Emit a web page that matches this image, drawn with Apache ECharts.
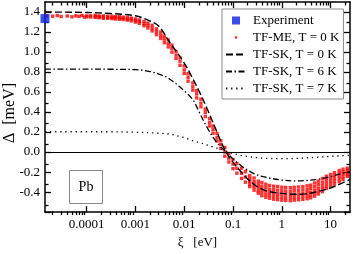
<!DOCTYPE html>
<html><head><meta charset="utf-8">
<script src="https://cdn.jsdelivr.net/npm/echarts@6/dist/echarts.min.js"></script>
<style>html,body{margin:0;padding:0;background:#fff}#c{width:353px;height:254px}</style>
</head><body><div id="c"></div><script>
// ---- axis ranges & ticks ----
const X_MIN = 1.4e-5, X_MAX = 25;
const Y_MIN = -0.6, Y_MAX = 1.5;
const xTickValues = [1e-4, 1e-3, 1e-2, 1e-1, 1, 10];
const xTickLabels = ['0.0001', '0.001', '0.01', '0.1', '1', '10'];
const yTickValues = [-0.4, -0.2, 0, 0.2, 0.4, 0.6, 0.8, 1.0, 1.2, 1.4];
const yTickLabels = ['-0.4', '-0.2', '0.0', '0.2', '0.4', '0.6', '0.8', '1.0', '1.2', '1.4'];
const xTitle = 'ξ   [eV]';
const yTitle = 'Δ  [meV]';
const panelLabel = 'Pb';

// ---- series names ----
const seriesNames = ['Experiment', 'TF-ME, T = 0 K', 'TF-SK, T = 0 K', 'TF-SK, T = 6 K', 'TF-SK, T = 7 K'];

// ---- Experiment ----
const experimentXi = [1.4e-5];
const experimentDelta = [1.334];

// ---- TF-SK curves (xi in eV, Delta in meV) ----
const skXi = [1.4e-5, 1e-4, 3e-4, 1e-3, 2e-3, 3e-3, 5e-3, 0.01, 0.015, 0.02, 0.03, 0.04, 0.05, 0.07, 0.1, 0.15, 0.2, 0.3, 0.5, 1, 2, 3, 5, 10, 15, 25];
const skT0 = [1.40, 1.395, 1.385, 1.362, 1.31, 1.26, 1.10, 0.89, 0.733, 0.613, 0.425, 0.280, 0.169, 0.011, -0.101, -0.204, -0.269, -0.340, -0.390, -0.413, -0.422, -0.418, -0.399, -0.358, -0.323, -0.273];
const skT6 = [0.829, 0.829, 0.828, 0.824, 0.805, 0.780, 0.731, 0.612, 0.524, 0.405, 0.238, 0.139, 0.080, 0.006, -0.068, -0.142, -0.181, -0.226, -0.255, -0.280, -0.288, -0.285, -0.275, -0.246, -0.221, -0.196];
const skT7 = [0.203, 0.203, 0.203, 0.198, 0.193, 0.188, 0.179, 0.144, 0.114, 0.097, 0.070, 0.050, 0.036, 0.011, -0.014, -0.034, -0.043, -0.055, -0.063, -0.066, -0.063, -0.058, -0.053, -0.043, -0.038, -0.032];

// ---- TF-ME scatter (xi in eV; several Delta readings per xi) ----
const tfmeXi = [1.5e-5, 2e-5, 2.5e-5, 3e-5, 4e-5, 5e-5, 6e-5, 7e-5, 8e-5, 9e-5,
  1.0e-4, 1.2e-4, 1.5e-4, 1.8e-4, 2.2e-4, 2.7e-4, 3.3e-4, 3.9e-4, 4.7e-4, 5.6e-4, 6.8e-4, 8.2e-4,
  1.0e-3, 1.2e-3, 1.5e-3, 1.8e-3, 2.2e-3, 2.7e-3, 3.3e-3, 3.9e-3, 4.7e-3, 5.6e-3, 6.8e-3, 8.2e-3,
  1.0e-2, 1.2e-2, 1.5e-2, 1.8e-2, 2.2e-2, 2.7e-2, 3.3e-2, 3.9e-2, 4.7e-2, 5.6e-2, 6.8e-2, 8.2e-2,
  0.10, 0.12, 0.15, 0.18, 0.22, 0.27, 0.33, 0.39, 0.47, 0.56, 0.68, 0.82,
  1.0, 1.2, 1.5, 1.8, 2.2, 2.7, 3.3, 3.9, 4.7, 5.6, 6.8, 8.2,
  10, 12, 15, 18, 22];
const tfmeDelta = [
  [1.362], [1.358], [1.365], [1.355], [1.360], [1.352], [1.362], [1.356], [1.366], [1.350],
  [1.360, 1.352], [1.362, 1.350], [1.366, 1.355, 1.346], [1.361, 1.351, 1.343], [1.361, 1.349, 1.337], [1.357, 1.347, 1.337],
  [1.358, 1.344, 1.334], [1.353, 1.344, 1.330], [1.354, 1.340, 1.328], [1.348, 1.337, 1.325], [1.346, 1.330, 1.319], [1.339, 1.328, 1.312],
  [1.331, 1.314, 1.299], [1.321, 1.306, 1.287], [1.306, 1.283, 1.263], [1.289, 1.266, 1.241], [1.266, 1.236, 1.211], [1.231, 1.204, 1.174],
  [1.199, 1.166, 1.136], [1.159, 1.129, 1.094], [1.121, 1.084, 1.051], [1.069, 1.036, 0.999], [1.006, 0.969, 0.936], [0.944, 0.907, 0.867],
  [0.861, 0.822, 0.786], [0.784, 0.747, 0.709], [0.691, 0.653, 0.619], [0.614, 0.581, 0.542], [0.529, 0.489, 0.453], [0.429, 0.395, 0.355],
  [0.334, 0.295, 0.261], [0.261, 0.227, 0.189], [0.186, 0.146, 0.111], [0.114, 0.077, 0.037], [0.046, 0.001, -0.041], [-0.014, -0.061, -0.099],
  [-0.074, -0.121, -0.166], [-0.114, -0.163, -0.211], [-0.161, -0.212, -0.263], [-0.196, -0.249, -0.301],
  [-0.236, -0.265, -0.293, -0.321, -0.346], [-0.259, -0.294, -0.324, -0.351, -0.381], [-0.291, -0.321, -0.352, -0.386, -0.411],
  [-0.304, -0.341, -0.373, -0.404, -0.436], [-0.321, -0.354, -0.389, -0.421, -0.451], [-0.334, -0.371, -0.401, -0.431, -0.461],
  [-0.341, -0.376, -0.409, -0.441, -0.471], [-0.344, -0.381, -0.416, -0.446, -0.476],
  [-0.351, -0.386, -0.419, -0.451, -0.481], [-0.353, -0.389, -0.421, -0.456, -0.484], [-0.356, -0.391, -0.424, -0.454, -0.486],
  [-0.352, -0.386, -0.421, -0.453, -0.481], [-0.349, -0.385, -0.419, -0.449, -0.477], [-0.346, -0.379, -0.413, -0.446, -0.473],
  [-0.337, -0.373, -0.406, -0.436, -0.466], [-0.331, -0.364, -0.401, -0.431, -0.457], [-0.309, -0.346, -0.381, -0.411, -0.441],
  [-0.291, -0.325, -0.361, -0.391, -0.419], [-0.264, -0.301, -0.334, -0.366, -0.396], [-0.241, -0.271, -0.303, -0.336, -0.364],
  [-0.224, -0.256, -0.286, -0.314, -0.346], [-0.206, -0.233, -0.262, -0.291, -0.319], [-0.184, -0.213, -0.241, -0.267, -0.296],
  [-0.171, -0.196, -0.221, -0.249, -0.274], [-0.161, -0.181, -0.205, -0.226, -0.244]
];

// ---- build ----
const L = Math.log10;
const xLo = L(X_MIN), xHi = L(X_MAX);
const xMajor = xTickValues.map(L);
const xMinor = [];
for (let n = -5; n <= 1; n++) for (let k = 2; k <= 9; k++) { const v = L(k * Math.pow(10, n)); if (v > xLo && v < xHi) xMinor.push(v); }
const yMajor = [-0.6].concat(yTickValues);
const yMinor = [];
for (let v = -5; v <= 13; v += 2) yMinor.push(v / 10);

const FONT = 'Liberation Serif';
const BLACK = '#000';
const gridRect = { left: 45, right: 3, top: 2, bottom: 39 };

function xFmt(v) { for (let i = 0; i < xMajor.length; i++) if (Math.abs(xMajor[i] - v) < 1e-6) return xTickLabels[i]; return ''; }
function yFmt(v) { for (let i = 0; i < yTickValues.length; i++) if (Math.abs(yTickValues[i] - v) < 1e-6) return yTickLabels[i]; return ''; }

function xAxisDef(grid, pos, ticks, len, line, labels) {
  return {
    type: 'value', gridIndex: grid, position: pos, min: xLo, max: xHi,
    axisLine: { show: line, onZero: false, lineStyle: { color: BLACK, width: 1.5 } },
    axisTick: { show: true, inside: true, length: len, customValues: ticks, lineStyle: { color: BLACK, width: 1.3 } },
    axisLabel: labels ? { show: true, customValues: xMajor, formatter: xFmt, margin: 6, fontFamily: FONT, fontSize: 13, color: BLACK } : { show: false },
    splitLine: { show: false },
    name: labels ? xTitle : '', nameLocation: 'middle', nameGap: 23,
    nameTextStyle: { fontFamily: FONT, fontSize: 13, color: BLACK }
  };
}
function yAxisDef(grid, pos, ticks, len, line, labels) {
  return {
    type: 'value', gridIndex: grid, position: pos, min: Y_MIN, max: Y_MAX,
    axisLine: { show: line, onZero: false, lineStyle: { color: BLACK, width: 1.5 } },
    axisTick: { show: true, inside: true, length: len, customValues: ticks, lineStyle: { color: BLACK, width: 1.3 } },
    axisLabel: labels ? { show: true, customValues: yTickValues, formatter: yFmt, margin: 5, fontFamily: FONT, fontSize: 13, color: BLACK } : { show: false },
    splitLine: { show: false }
  };
}

const tfmeData = [];
tfmeXi.forEach((x, i) => tfmeDelta[i].forEach(d => tfmeData.push([L(x), d])));
const pairs = (xs, ys) => xs.map((x, i) => [L(x), ys[i]]);
const noSym = { opacity: 0, color: 'rgba(0,0,0,0)', borderWidth: 0 };

const option = {
  animation: false,
  backgroundColor: '#fff',
  grid: [Object.assign({}, gridRect), Object.assign({}, gridRect)],
  xAxis: [
    xAxisDef(0, 'bottom', xMajor, 6, true, true),
    xAxisDef(0, 'top', xMajor, 6, true, false),
    xAxisDef(1, 'bottom', xMinor, 3.5, false, false),
    xAxisDef(1, 'top', xMinor, 3.5, false, false)
  ],
  yAxis: [
    yAxisDef(0, 'left', yMajor, 6, true, true),
    yAxisDef(0, 'right', yMajor, 6, true, false),
    yAxisDef(1, 'left', yMinor, 3.5, false, false),
    yAxisDef(1, 'right', yMinor, 3.5, false, false)
  ],
  legend: {
    orient: 'vertical', left: 222, top: 9,
    data: [
      { name: seriesNames[0], icon: 'path://M0,0 M20,0 M20,10 M0,10 M6,1 L14,1 L14,9 L6,9 Z' },
      { name: seriesNames[1], icon: 'path://M0,0 M20,0 M20,10 M0,10 M8.8,3.8 L11.2,3.8 L11.2,6.2 L8.8,6.2 Z' },
      { name: seriesNames[2], itemStyle: noSym },
      { name: seriesNames[3], itemStyle: noSym },
      { name: seriesNames[4], itemStyle: noSym }
    ],
    itemWidth: 20, itemHeight: 10, itemGap: 4,
    padding: [5, 4, 4, 3],
    borderColor: '#888', borderWidth: 1, backgroundColor: '#fff',
    selectedMode: false,
    textStyle: { fontFamily: FONT, fontSize: 13, color: BLACK, lineHeight: 13, padding: [0, 0, 0, 2] }
  },
  graphic: [
    { type: 'text', x: 10, y: 113, rotation: Math.PI / 2,
      style: { text: yTitle, fontFamily: FONT, fontSize: 16, fill: BLACK, align: 'center', verticalAlign: 'middle' } },
    { type: 'rect', shape: { x: 69.5, y: 170.5, width: 33, height: 33 }, style: { fill: '#fff', stroke: '#888', lineWidth: 1 }, z: 10 },
    { type: 'text', x: 86, y: 187, style: { text: panelLabel, fontFamily: FONT, fontSize: 14, fill: BLACK, align: 'center', verticalAlign: 'middle' }, z: 11 }
  ],
  series: [
    { name: seriesNames[1], type: 'scatter', xAxisIndex: 0, yAxisIndex: 0, data: tfmeData,
      symbol: 'rect', symbolSize: 3.4, itemStyle: { color: '#f00' }, silent: true },
    { name: seriesNames[2], type: 'line', xAxisIndex: 0, yAxisIndex: 0, data: pairs(skXi, skT0), smooth: 0.35, symbol: 'none',
      lineStyle: { color: BLACK, width: 1.4, type: [7, 3] }, itemStyle: { color: BLACK } },
    { name: seriesNames[3], type: 'line', xAxisIndex: 0, yAxisIndex: 0, data: pairs(skXi, skT6), smooth: 0.35, symbol: 'none',
      lineStyle: { color: BLACK, width: 1.3, type: [6, 2.5, 1.5, 2.5] }, itemStyle: { color: BLACK } },
    { name: seriesNames[4], type: 'line', xAxisIndex: 0, yAxisIndex: 0, data: pairs(skXi, skT7), smooth: 0.35, symbol: 'none',
      lineStyle: { color: BLACK, width: 1.3, type: [1.3, 3.8] }, itemStyle: { color: BLACK },
      markLine: { silent: true, symbol: ['none', 'none'], label: { show: false }, lineStyle: { color: BLACK, width: 1, type: 'solid' }, data: [{ yAxis: 0 }] } },
    { name: seriesNames[0], type: 'scatter', xAxisIndex: 0, yAxisIndex: 0, data: pairs(experimentXi, experimentDelta),
      symbol: 'rect', symbolSize: 9, clip: false, itemStyle: { color: '#0a20e8' }, z: 5 }
  ]
};
const chart = echarts.init(document.getElementById('c'), null, { renderer: 'canvas' });
chart.setOption(option);
</script></body></html>
